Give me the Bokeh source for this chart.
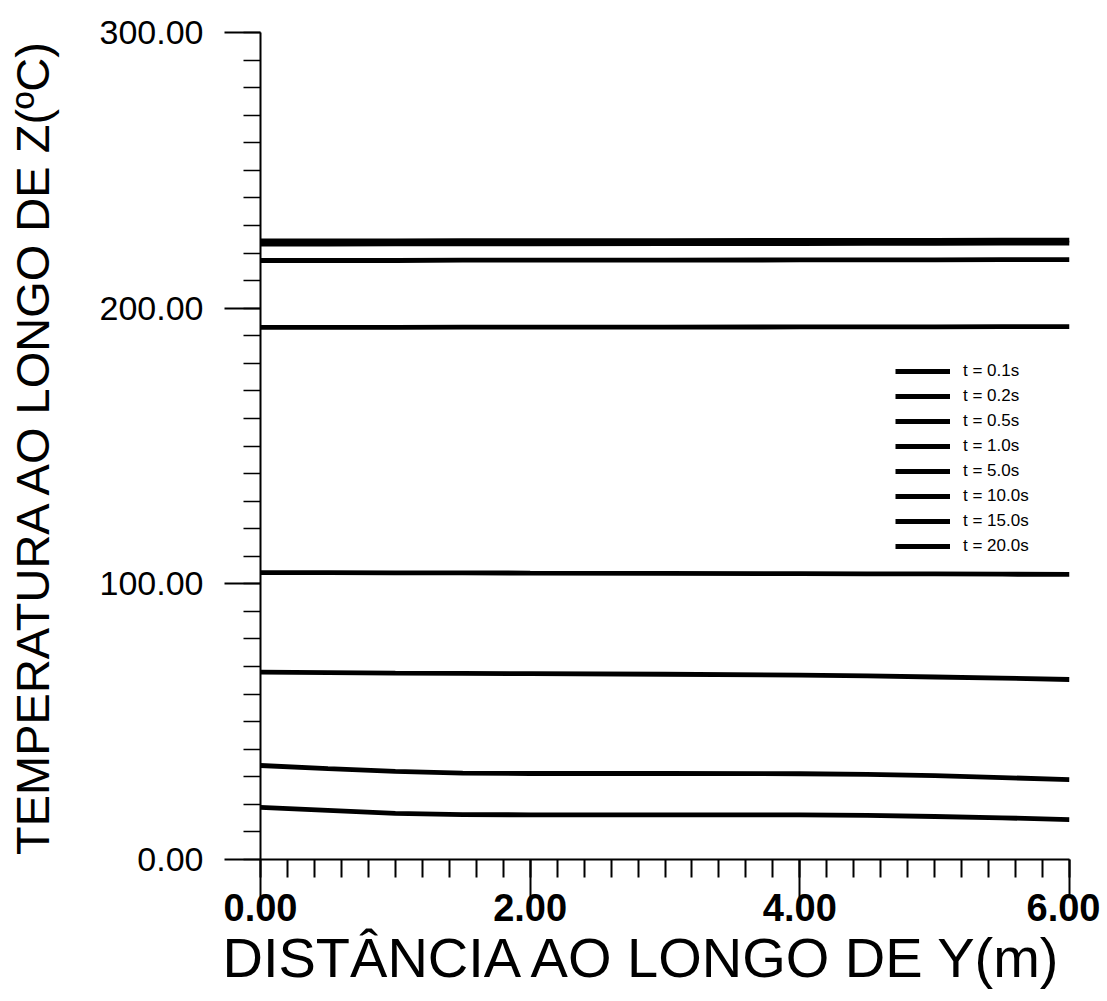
from bokeh.plotting import figure
from bokeh.models import FixedTicker, Legend, LegendItem, Range1d, NumeralTickFormatter, Title
from bokeh.embed import file_html
from bokeh.resources import INLINE

# ---- data ----
x_pos = [0.0, 0.5, 1.0, 1.5, 2.0, 3.0, 4.0, 4.5, 5.0, 5.5, 6.0]
t_01 = [18.9, 17.8, 16.7, 16.3, 16.2, 16.2, 16.2, 16.0, 15.6, 15.1, 14.5]
t_02 = [34.1, 33.0, 32.0, 31.3, 31.2, 31.2, 31.1, 30.9, 30.4, 29.7, 29.0]
t_05 = [68.0, 67.8, 67.6, 67.5, 67.4, 67.2, 66.9, 66.6, 66.2, 65.8, 65.3]
t_1 = [104.1, 104.1, 104.0, 104.0, 103.9, 103.8, 103.7, 103.6, 103.6, 103.5, 103.4]
t_5 = [193.0, 193.0, 193.0, 193.1, 193.1, 193.1, 193.2, 193.2, 193.2, 193.3, 193.3]
t_10 = [217.3, 217.3, 217.3, 217.4, 217.4, 217.4, 217.5, 217.5, 217.5, 217.6, 217.6]
t_15 = [223.2, 223.2, 223.3, 223.3, 223.3, 223.4, 223.4, 223.5, 223.5, 223.6, 223.6]
t_20 = [224.4, 224.4, 224.4, 224.5, 224.5, 224.5, 224.6, 224.6, 224.6, 224.7, 224.7]

series = [t_01, t_02, t_05, t_1, t_5, t_10, t_15, t_20]
labels = ["t = 0.1s", "t = 0.2s", "t = 0.5s", "t = 1.0s", "t = 5.0s",
          "t = 10.0s", "t = 15.0s", "t = 20.0s"]

x_major = [0, 2, 4, 6]
x_minor = [round(i * 0.2, 1) for i in range(31)]
y_major = [0, 100, 200, 300]
y_minor = [i * 10 for i in range(31)]

x_title = "DISTÂNCIA AO LONGO DE Y(m)"
y_title = "TEMPERATURA AO LONGO DE Z(ºC)"

FONT = "Liberation Sans"

p = figure(width=1100, height=1000, x_range=Range1d(0, 6), y_range=Range1d(0, 300),
           output_backend="svg", toolbar_location=None,
           min_border_left=260, min_border_right=31, min_border_top=32, min_border_bottom=141)
p.outline_line_color = None
p.xgrid.visible = False
p.ygrid.visible = False

items = []
for ys, lab in zip(series, labels):
    r = p.line(x_pos, ys, line_color="black", line_width=4.8)
    items.append(LegendItem(label=lab, renderers=[r]))

# x axis
xa = p.xaxis[0]
xa.ticker = FixedTicker(ticks=x_major, minor_ticks=x_minor)
xa.formatter = NumeralTickFormatter(format="0.00")
xa.major_tick_out = 38
xa.major_tick_in = 0
xa.minor_tick_out = 18
xa.minor_tick_in = 0
xa.major_tick_line_width = 2
xa.minor_tick_line_width = 2
xa.axis_line_width = 2
xa.major_label_standoff = -4
xa.major_label_text_font = FONT
xa.major_label_text_font_size = "38px"
xa.major_label_text_font_style = "bold"
xa.major_label_text_color = "black"

p.add_layout(Title(text=x_title, align="left", offset=-38, standoff=0,
                   text_font=FONT, text_font_size="56px", text_font_style="normal",
                   text_color="black"), "below")

# y axis
ya = p.yaxis[0]
ya.ticker = FixedTicker(ticks=y_major, minor_ticks=y_minor)
ya.formatter = NumeralTickFormatter(format="0.00")
ya.major_tick_out = 36
ya.major_tick_in = 0
ya.minor_tick_out = 17
ya.minor_tick_in = 0
ya.major_tick_line_width = 2
ya.minor_tick_line_width = 1.5
ya.axis_line_width = 2
ya.major_label_standoff = 21
ya.major_label_text_font = FONT
ya.major_label_text_font_size = "34px"
ya.major_label_text_color = "black"
ya.axis_label = y_title
ya.axis_label_text_font = FONT
ya.axis_label_text_font_size = "47px"
ya.axis_label_text_font_style = "normal"
ya.axis_label_text_color = "black"
ya.axis_label_standoff = 38

legend = Legend(items=items, location=(635, 303), padding=0, margin=0,
                glyph_width=55, glyph_height=20, label_height=20, spacing=5,
                label_standoff=13, label_text_font=FONT, label_text_font_size="17px",
                label_text_color="black", background_fill_alpha=0, border_line_alpha=0)
p.add_layout(legend, "center")

open("out.html", "w").write(file_html(p, INLINE))
